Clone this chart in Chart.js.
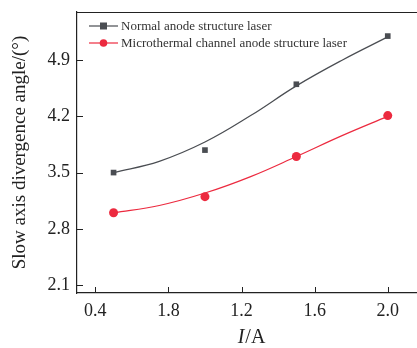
<!DOCTYPE html>
<html>
<head>
<meta charset="utf-8">
<script src="https://cdn.jsdelivr.net/npm/chart.js@4"></script>
<style>
  html, body { margin: 0; padding: 0; background: #fff; }
  #wrap { width: 417px; height: 348px; }
</style>
</head>
<body>
<div id="wrap"><canvas id="myChart" width="417" height="348"></canvas></div>
<script>
// measured points
const currents = [0.5, 1.0, 1.5, 2.0];
const normalAngle = [3.50, 3.78, 4.60, 5.20];
const microAngle = [3.00, 3.20, 3.70, 4.21];

// fitted curves
const fitCurrents = [0.5, 0.75, 1.0, 1.25, 1.5, 1.75, 2.0];
const normalFit = [3.50, 3.64, 3.88, 4.21, 4.58, 4.90, 5.19];
const microFit = [3.00, 3.09, 3.245, 3.45, 3.70, 3.96, 4.20];

const seriesNames = ['Normal anode structure laser', 'Microthermal channel anode structure laser'];
const xTicks = [0.4, 0.8, 1.2, 1.6, 2.0];
const xTickLabels = ['0.4', '1.8', '1.2', '1.6', '2.0'];
const yTicks = [2.1, 2.8, 3.5, 4.2, 4.9];

const grey = '#4a4d52'; // dark grey
const red = '#ec2a3f';  // red
const serif = '"Liberation Serif", "DejaVu Serif", serif';

function toXY(xs, ys) {
    return xs.map((x, i) => ({ x: x, y: ys[i] }));
}

// inward ticks, top frame, legend and x title
const extras = {
    id: 'extras',
    afterDraw(chart) {
        const ctx = chart.ctx;
        const area = chart.chartArea;
        const xs = chart.scales.x;
        const ys = chart.scales.y;
        ctx.save();
        ctx.strokeStyle = '#222';
        ctx.lineWidth = 1;
        ctx.beginPath();
        ctx.moveTo(area.left, area.top + 0.5);
        ctx.lineTo(area.right, area.top + 0.5);
        xTicks.forEach((v) => {
            const px = Math.round(xs.getPixelForValue(v)) + 0.5;
            ctx.moveTo(px, area.bottom);
            ctx.lineTo(px, area.bottom - 6);
        });
        yTicks.forEach((v) => {
            const py = Math.round(ys.getPixelForValue(v)) + 0.5;
            ctx.moveTo(area.left, py);
            ctx.lineTo(area.left + 6, py);
        });
        ctx.stroke();

        // legend
        const rows = [
            { name: seriesNames[0], color: grey, shape: 'rect' },
            { name: seriesNames[1], color: red, shape: 'circle' }
        ];
        ctx.font = '13px ' + serif;
        ctx.textBaseline = 'middle';
        rows.forEach((r, i) => {
            const y = 26 + i * 17;
            ctx.strokeStyle = r.color;
            ctx.lineWidth = 1.2;
            ctx.beginPath();
            ctx.moveTo(89, y);
            ctx.lineTo(118, y);
            ctx.stroke();
            ctx.fillStyle = r.color;
            if (r.shape === 'rect') {
                ctx.fillRect(100, y - 3.5, 7, 7);
            } else {
                ctx.beginPath();
                ctx.arc(103.5, y, 3.8, 0, Math.PI * 2);
                ctx.fill();
            }
            ctx.fillStyle = '#333';
            ctx.textAlign = 'left';
            ctx.fillText(r.name, 121, y + 1);
        });

        // x title: italic I then /A
        const cx = (area.left + area.right) / 2 + 4;
        const ty = 338;
        ctx.fillStyle = '#222';
        ctx.textAlign = 'left';
        ctx.font = 'italic 20px ' + serif;
        const iw = ctx.measureText('I').width;
        ctx.font = '20px ' + serif;
        const rw = ctx.measureText('/A').width;
        const start = cx - (iw + rw) / 2;
        ctx.font = 'italic 20px ' + serif;
        ctx.fillText('I', start, ty);
        ctx.font = '20px ' + serif;
        ctx.fillText('/A', start + iw + 1, ty);
        ctx.restore();
    }
};

const ctx = document.getElementById('myChart').getContext('2d');
const myChart = new Chart(ctx, {
    type: 'scatter',
    data: {
        datasets: [
            {
                label: seriesNames[0] + ' fit',
                data: toXY(fitCurrents, normalFit),
                showLine: true,
                borderColor: grey,
                borderWidth: 1.2,
                pointRadius: 0,
                tension: 0.4
            },
            {
                label: seriesNames[1] + ' fit',
                data: toXY(fitCurrents, microFit),
                showLine: true,
                borderColor: red,
                borderWidth: 1.2,
                pointRadius: 0,
                tension: 0.4
            },
            {
                label: seriesNames[0],
                data: toXY(currents, normalAngle),
                showLine: false,
                pointStyle: 'rect',
                pointRadius: 4,
                backgroundColor: grey,
                borderColor: grey,
                borderWidth: 0
            },
            {
                label: seriesNames[1],
                data: toXY(currents, microAngle),
                showLine: false,
                pointStyle: 'circle',
                pointRadius: 4.5,
                backgroundColor: red,
                borderColor: red,
                borderWidth: 0
            }
        ]
    },
    options: {
        responsive: false,
        animation: false,
        layout: { autoPadding: false, padding: { top: 12, right: 0, left: 0, bottom: 0 } },
        plugins: {
            legend: { display: false },
            tooltip: { enabled: false }
        },
        scales: {
            x: {
                type: 'linear',
                min: 0.3,
                max: 2.16,
                afterBuildTicks: (scale) => {
                    scale.ticks = xTicks.map((v) => ({ value: v }));
                },
                afterFit: (scale) => {
                    scale.height = 55;
                    scale.paddingLeft = 0;
                    scale.paddingRight = 0;
                },
                grid: { display: false, drawTicks: false },
                border: { display: true, color: '#222', width: 1.2 },
                ticks: {
                    includeBounds: false,
                    color: '#222',
                    font: { family: serif, size: 18 },
                    padding: 7,
                    maxRotation: 0,
                    callback: (v) => {
                        const i = xTicks.findIndex((t) => Math.abs(t - v) < 1e-6);
                        return i >= 0 ? xTickLabels[i] : '';
                    }
                }
            },
            y: {
                min: 2.0,
                max: 5.5,
                afterBuildTicks: (scale) => {
                    scale.ticks = yTicks.map((v) => ({ value: v }));
                },
                afterFit: (scale) => {
                    scale.width = 77;
                    scale.paddingTop = 0;
                    scale.paddingBottom = 0;
                },
                grid: { display: false, drawTicks: false },
                border: { display: true, color: '#222', width: 1.2 },
                ticks: {
                    includeBounds: false,
                    color: '#222',
                    font: { family: serif, size: 18 },
                    padding: 7,
                    callback: (v) => v.toFixed(1)
                },
                title: {
                    display: true,
                    text: 'Slow axis divergence angle/(°)',
                    color: '#222',
                    font: { family: serif, size: 19 },
                    padding: { top: 9, bottom: 0 }
                }
            }
        }
    },
    plugins: [extras]
});
</script>
</body>
</html>
